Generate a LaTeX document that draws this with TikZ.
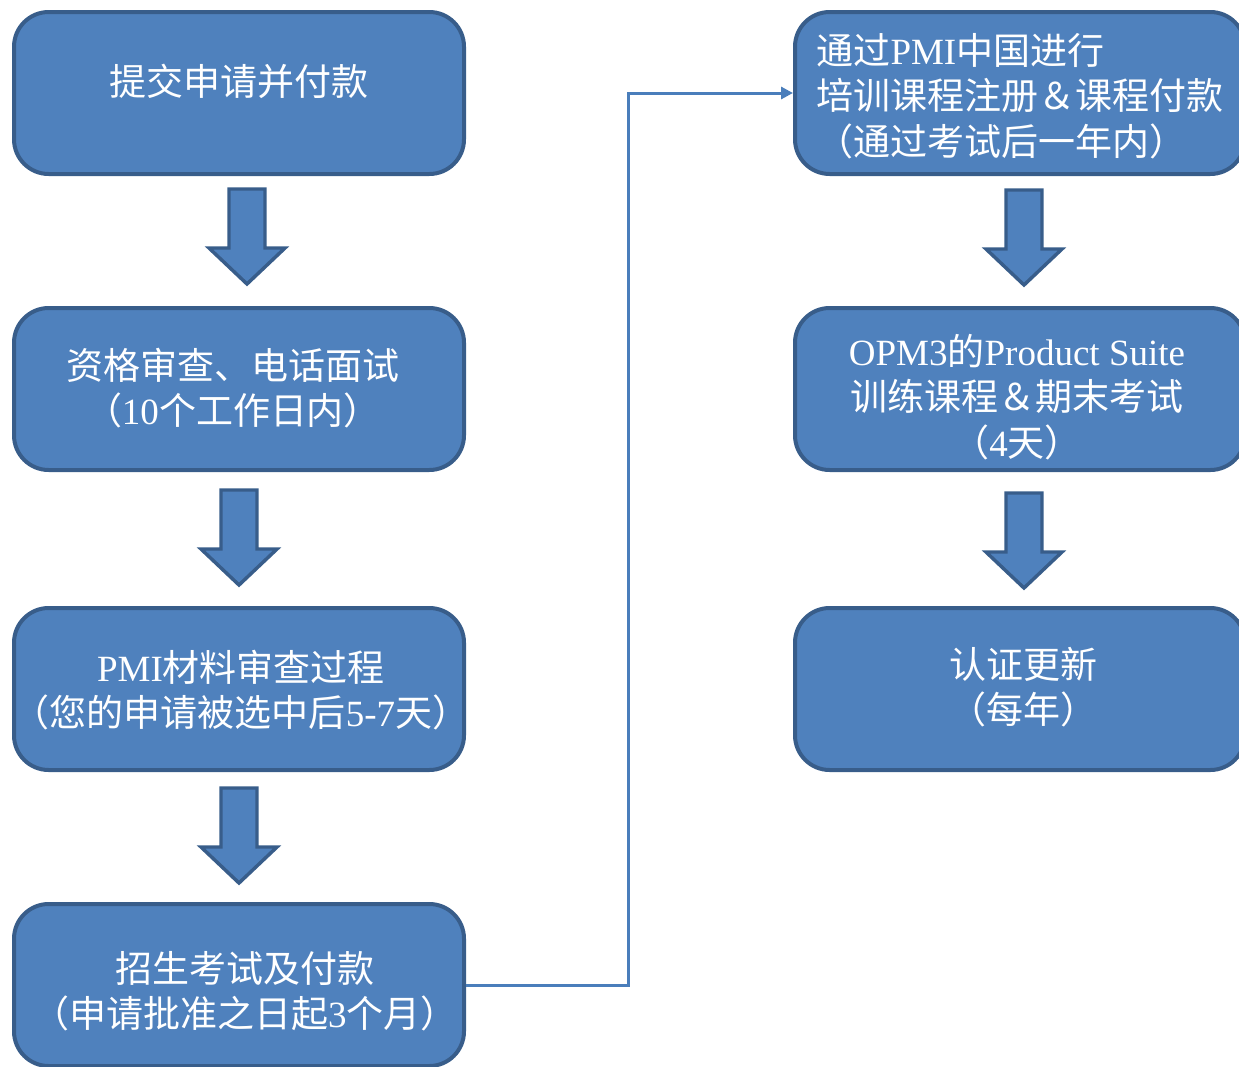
\documentclass[tikz,border=0pt]{standalone}
\usepackage{fontspec}
\setmainfont{Noto Sans CJK SC}
\newfontfamily\tnr{Liberation Serif}
\usetikzlibrary{arrows.meta}
\definecolor{boxfill}{HTML}{4F81BD}
\definecolor{boxline}{HTML}{385D8A}
\definecolor{connline}{HTML}{4A7EBB}
\tikzset{
  box/.style={draw=boxline, fill=boxfill, line width=3pt, rounded corners=26pt,
    minimum width=337.5pt, minimum height=121.5pt, inner sep=0pt},
  txt/.style={text=white, font=\fontsize{27.75pt}{34pt}\selectfont, align=center, inner sep=0pt},
  conn/.style={draw=connline, line width=2.25pt, -{Triangle[length=9pt,width=9pt]}},
  pics/downarrow/.style={code={
    \draw[draw=boxline, fill=boxfill, line width=2.6pt, line join=miter]
      (-18,0) -- (18,0) -- (18,59) -- (38,59) -- (0,95) -- (-38,59) -- (-18,59) -- cycle;}}
}
\begin{document}
\begin{tikzpicture}[x=0.75pt,y=-0.75pt]
\useasboundingbox (0,0) rectangle (1239,1067);
\clip (0,0) rectangle (1239,1067);
% boxes
\node[box] (b1) at (239,93) {};
\node[box] (b2) at (239,389) {};
\node[box] (b3) at (239,689) {};
\node[box] (b4) at (239,985) {};
\node[box] (r1) at (1020,93) {};
\node[box] (r2) at (1020,389) {};
\node[box] (r3) at (1020,689) {};
% texts
\node[txt] (t1) at (239,81) {提交申请并付款};
\node[txt] (t2) at (233,388) {资格审查、电话面试\\（{\tnr 10}个工作日内）};
\node[txt] (t3) at (241,690) {{\tnr PMI}材料审查过程\\（您的申请被选中后{\tnr 5-7}天）};
\node[txt] (t4) at (245,991) {招生考试及付款\\（申请批准之日起{\tnr 3}个月）};
\node[txt, align=left] (u1) at (1020,96) {通过{\tnr PMI}中国进行\\培训课程注册＆课程付款\\（通过考试后一年内）};
\node[txt] (u2) at (1017,397) {{\tnr OPM3}的{\tnr Product Suite}\\训练课程＆期末考试\\（{\tnr 4}天）};
\node[txt] (u3) at (1023,687) {认证更新\\（每年）};
% block arrows
\pic at (247,189) {downarrow};
\pic at (239,490) {downarrow};
\pic at (239,788) {downarrow};
\pic at (1024,190) {downarrow};
\pic at (1024,493) {downarrow};
% connector
\coordinate (jx) at (628,0);
\draw[conn] (b4.east) -- (b4.east -| jx) |- (r1.west);
\end{tikzpicture}
\end{document}
